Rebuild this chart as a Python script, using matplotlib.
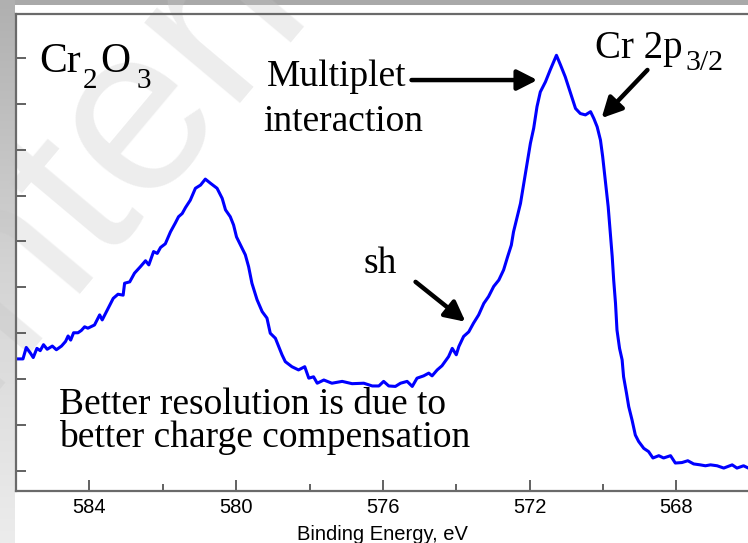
import matplotlib
matplotlib.use("Agg")
import matplotlib.pyplot as plt
import numpy as np
from matplotlib import font_manager
from matplotlib.patches import Rectangle
from matplotlib.colors import LinearSegmentedColormap

# Cr 2p XPS spectrum of Cr2O3 (binding energy in eV, intensity in arbitrary units)
binding_energy = [
    585.99, 585.81, 585.72, 585.61, 585.53, 585.43, 585.34, 585.25, 585.15, 585.01,
    584.90, 584.76, 584.65, 584.58, 584.51, 584.43, 584.31, 584.22, 584.13, 584.04,
    583.86, 583.72, 583.65, 583.49, 583.35, 583.22, 583.08, 583.04, 582.90, 582.77,
    582.61, 582.47, 582.38, 582.25, 582.15, 582.06, 581.93, 581.79, 581.66, 581.57,
    581.47, 581.38, 581.25, 581.11, 580.97, 580.84, 580.70, 580.52, 580.38, 580.29,
    580.16, 580.07, 579.99, 579.88, 579.75, 579.66, 579.57, 579.43, 579.29, 579.16,
    579.07, 578.93, 578.84, 578.75, 578.66, 578.48, 578.30, 578.13, 578.02, 577.89,
    577.79, 577.61, 577.39, 577.11, 576.84, 576.52, 576.29, 576.11, 575.98, 575.84,
    575.66, 575.52, 575.34, 575.20, 575.07, 574.89, 574.75, 574.66, 574.52, 574.39,
    574.21, 574.11, 574.00, 573.93, 573.80, 573.66, 573.53, 573.39, 573.25, 573.12,
    572.98, 572.84, 572.71, 572.60, 572.50, 572.44, 572.34, 572.25, 572.16, 572.07,
    571.98, 571.89, 571.80, 571.71, 571.57, 571.44, 571.27, 571.16, 571.03, 570.94,
    570.84, 570.75, 570.62, 570.48, 570.34, 570.25, 570.16, 570.07, 570.01, 569.94,
    569.86, 569.80, 569.75, 569.71, 569.66, 569.62, 569.55, 569.48, 569.44, 569.36,
    569.30, 569.21, 569.12, 569.03, 568.89, 568.76, 568.64, 568.48, 568.35, 568.16,
    568.03, 567.85, 567.69, 567.53, 567.35, 567.21, 567.07, 566.89, 566.71, 566.48,
    566.35, 566.17, 566.04,
]
intensity = [
    2.44, 2.44, 2.69, 2.57, 2.47, 2.67, 2.62, 2.75, 2.65, 2.72,
    2.64, 2.72, 2.82, 2.94, 2.85, 3.01, 3.01, 3.06, 3.14, 3.11,
    3.18, 3.40, 3.29, 3.54, 3.76, 3.85, 3.83, 4.09, 4.12, 4.31,
    4.45, 4.58, 4.49, 4.78, 4.74, 4.87, 4.95, 5.21, 5.40, 5.54,
    5.61, 5.74, 5.90, 6.16, 6.23, 6.36, 6.27, 6.16, 5.94, 5.69,
    5.54, 5.36, 5.10, 4.92, 4.71, 4.45, 4.09, 3.73, 3.47, 3.33,
    3.00, 2.89, 2.71, 2.53, 2.38, 2.27, 2.20, 2.27, 2.02, 2.05,
    1.91, 1.98, 1.91, 1.95, 1.90, 1.91, 1.85, 1.85, 1.95, 1.85,
    1.84, 1.91, 1.95, 1.84, 2.02, 2.07, 2.13, 2.07, 2.20, 2.29,
    2.49, 2.67, 2.53, 2.71, 2.93, 3.03, 3.22, 3.40, 3.65, 3.80,
    4.02, 4.16, 4.38, 4.67, 4.92, 5.21, 5.54, 5.83, 6.27, 6.70,
    7.14, 7.47, 7.94, 8.26, 8.48, 8.74, 9.06, 8.85, 8.59, 8.37,
    8.12, 7.90, 7.79, 7.76, 7.83, 7.68, 7.50, 7.21, 6.85, 6.34,
    5.76, 5.18, 4.67, 4.16, 3.65, 3.07, 2.67, 2.42, 2.05, 1.69,
    1.40, 1.11, 0.78, 0.64, 0.49, 0.42, 0.28, 0.33, 0.28, 0.33,
    0.17, 0.18, 0.22, 0.15, 0.13, 0.11, 0.13, 0.11, 0.06, 0.13,
    0.06, 0.11, 0.06,
]

x_major = [584, 580, 576, 572, 568]
x_minor = [582, 578, 574, 570]
y_ticks = [0, 1, 2, 3, 4, 5, 6, 7, 8, 9]

available = {f.name for f in font_manager.fontManager.ttflist}
narrow = "Liberation Sans Narrow" in available
sans = "Liberation Sans Narrow" if narrow else "Liberation Sans"
serif = "Liberation Serif"

W, H = 748, 543
fig = plt.figure(figsize=(W / 100, H / 100), dpi=100)
fig.patch.set_facecolor("white")

# slide frame: grey strip along the top, grey gradient down the left edge
fig.patches.append(Rectangle((0, 1 - 5 / H), 1, 5 / H, transform=fig.transFigure,
                             facecolor="#a9a9a9", edgecolor="none", zorder=-3))
grad_ax = fig.add_axes([0, 0, 15 / W, 1], zorder=-2)
grad_ax.axis("off")
grad_cmap = LinearSegmentedColormap.from_list("frame", ["#b0b0b0", "#d4d4d4", "#ececec"])
grad_ax.imshow(np.linspace(0, 1, 256).reshape(-1, 1), aspect="auto", cmap=grad_cmap,
               extent=[0, 1, 0, 1])

# faint watermark behind the plot
fig.text(-30 / W, 1 - 400 / H, "Internet", rotation=50, rotation_mode="anchor",
         ha="left", va="baseline", fontsize=170, color="#c4c4c4", alpha=0.3,
         family="Liberation Sans", zorder=-1)

ax = fig.add_axes([16 / W, 52 / H, 20 * 36.69 / W, 477 / H], zorder=0)
ax.set_facecolor("none")
ax.plot(binding_energy, intensity, color="#0000ff", lw=2.2, solid_joinstyle="round")
ax.set_xlim(586, 566)
ax.set_ylim(-0.44, 9.96)

for side in ["left", "top", "bottom"]:
    ax.spines[side].set_color("#6a6a6a")
    ax.spines[side].set_linewidth(1.6)
ax.spines["right"].set_visible(False)

ax.set_xticks(x_major)
ax.set_xticks(x_minor, minor=True)
ax.set_yticks(y_ticks)
ax.set_yticklabels([])
ax.tick_params(axis="x", which="major", direction="in", length=8, width=1.3,
               color="#555555", pad=5, labelsize=16 if narrow else 14.5)
ax.tick_params(axis="x", which="minor", direction="in", length=5, width=1.3, color="#555555")
ax.tick_params(axis="y", which="major", direction="in", length=7.5, width=1.3, color="#555555")
for lbl in ax.get_xticklabels():
    lbl.set_family(sans)

fig.text(382 / W, 2.5 / H, "Binding Energy, eV", ha="center", va="baseline",
         family=sans, fontsize=17 if narrow else 14.5)

# annotations
txt = dict(family=serif, fontsize=27, color="black", va="baseline", ha="left")
ax.text(585.36, 8.69, "Cr", **dict(txt, fontsize=30))
ax.text(584.19, 8.34, "2", **dict(txt, fontsize=21))
ax.text(583.70, 8.69, "O", **dict(txt, fontsize=30))
ax.text(582.72, 8.34, "3", **dict(txt, fontsize=21))

ax.text(579.15, 8.39, "Multiplet", **txt)
ax.text(579.26, 7.41, "interaction", **txt)

ax.text(570.21, 9.00, "Cr 2p", **dict(txt, fontsize=28))
ax.text(567.76, 8.74, "3/2", **dict(txt, fontsize=21.5))

ax.text(576.53, 4.31, "sh", **txt)
ax.text(584.84, 1.24, "Better resolution is due to", **txt)
ax.text(584.84, 0.52, "better charge compensation", **txt)

arrow = dict(arrowstyle="-|>,head_length=0.55,head_width=0.28", lw=3.2, color="black",
             shrinkA=0, shrinkB=0, mutation_scale=22)
ax.annotate("", xy=(571.79, 8.52), xytext=(575.22, 8.52), arrowprops=arrow)
ax.annotate("", xy=(570.04, 7.69), xytext=(568.79, 8.74), arrowprops=arrow)
ax.annotate("", xy=(573.75, 3.25), xytext=(575.11, 4.12), arrowprops=arrow)

fig.savefig("out.png", dpi=100, facecolor=fig.get_facecolor())
